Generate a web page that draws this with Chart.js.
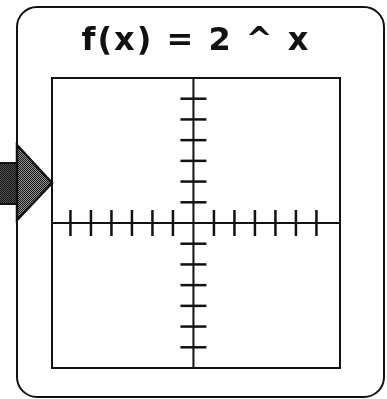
<!DOCTYPE html>
<html>
<head>
<meta charset="utf-8">
<script src="https://cdn.jsdelivr.net/npm/chart.js@4"></script>
<style>
  html, body { margin: 0; padding: 0; background: #fff; }
  #wrap { width: 387px; height: 399px; }
</style>
</head>
<body>
<div id="wrap"><canvas id="chart"></canvas></div>
<script>
const titleText = 'f(x) = 2 ^ x'
const xRange = [-6.9, 7.15]
const yRange = [-7, 7]
const xTicks = [-6, -5, -4, -3, -2, -1, 1, 2, 3, 4, 5, 6]
const yTicks = [-6, -5, -4, -3, -2, -1, 1, 2, 3, 4, 5, 6]

function stipple(light) {
  const c = document.createElement('canvas')
  c.width = 2
  c.height = 2
  const g = c.getContext('2d')
  g.fillStyle = light
  g.fillRect(0, 0, 2, 2)
  g.fillStyle = '#111'
  g.fillRect(0, 0, 1, 1)
  g.fillRect(1, 1, 1, 1)
  return c
}

// outer rounded box, the pointer arrow and the plot frame
const decor = {
  id: 'decor',
  beforeDraw(chart) {
    const ctx = chart.ctx
    const area = chart.chartArea
    ctx.letterSpacing = '2px'
    ctx.save()
    ctx.fillStyle = '#fff'
    ctx.fillRect(0, 0, chart.width, chart.height)

    ctx.strokeStyle = '#111'
    ctx.lineWidth = 2
    ctx.beginPath()
    ctx.roundRect(17, 7, 367, 390, 20)
    ctx.stroke()

    // arrow shaft
    ctx.fillStyle = ctx.createPattern(stipple('#555'), 'repeat')
    ctx.fillRect(0, 163, 17, 41)
    ctx.strokeRect(-2, 163, 19, 41)

    // arrow head
    ctx.beginPath()
    ctx.moveTo(17, 145)
    ctx.lineTo(area.left, 183)
    ctx.lineTo(17, 220)
    ctx.closePath()
    ctx.fillStyle = ctx.createPattern(stipple('#999'), 'repeat')
    ctx.fill()
    ctx.lineWidth = 2.5
    ctx.stroke()

    ctx.lineWidth = 2
    ctx.strokeRect(area.left, area.top, area.right - area.left, area.bottom - area.top)
    ctx.restore()
  }
}

const axisLine = {
  showLine: true,
  borderColor: '#111',
  borderWidth: 2,
  pointRadius: 0,
  pointHoverRadius: 0
}

const tickMarks = {
  showLine: false,
  pointStyle: 'line',
  pointRadius: 13,
  pointHoverRadius: 13,
  borderColor: '#111',
  borderWidth: 2.5
}

new Chart(document.getElementById('chart'), {
  type: 'scatter',
  data: {
    datasets: [
      { ...axisLine, data: [{ x: xRange[0], y: 0 }, { x: xRange[1], y: 0 }] },
      { ...axisLine, data: [{ x: 0, y: yRange[0] }, { x: 0, y: yRange[1] }] },
      { ...tickMarks, rotation: 90, data: xTicks.map(v => ({ x: v, y: 0 })) },
      { ...tickMarks, rotation: 0, data: yTicks.map(v => ({ x: 0, y: v })) }
    ]
  },
  options: {
    responsive: true,
    maintainAspectRatio: false,
    animation: false,
    events: [],
    layout: {
      padding: { left: 52, right: 47, top: 0, bottom: 31 }
    },
    plugins: {
      legend: { display: false },
      tooltip: { enabled: false },
      title: {
        display: true,
        text: titleText,
        color: '#111',
        font: { family: 'DejaVu Sans', size: 32, weight: 'bold', lineHeight: 1.2 },
        padding: { top: 22, bottom: 17.6 }
      }
    },
    scales: {
      x: { type: 'linear', display: false, min: xRange[0], max: xRange[1] },
      y: { type: 'linear', display: false, min: yRange[0], max: yRange[1] }
    }
  },
  plugins: [decor]
})
</script>
</body>
</html>
